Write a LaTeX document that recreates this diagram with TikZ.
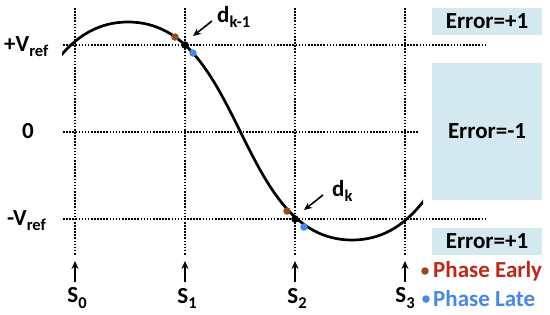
\documentclass[tikz,border=0pt]{standalone}
\usepackage{fontspec}
\setmainfont{Carlito}
\usetikzlibrary{arrows.meta}
\definecolor{boxblue}{RGB}{212,232,240}
\definecolor{earlytxt}{RGB}{190,40,25}
\definecolor{earlydot}{RGB}{150,75,25}
\definecolor{latec}{RGB}{70,135,232}
\newcommand{\mysub}[1]{\raisebox{-0.22em}{\fontsize{16.5}{18}\selectfont #1}}
\tikzset{
  grid/.style={line width=1.6pt, dash pattern=on 1.6pt off 1.5pt},
  lbl/.style={font=\fontsize{23}{27}\selectfont\bfseries, inner sep=0pt},
  errbox/.style={fill=boxblue, minimum width=110pt, inner sep=0pt, font=\fontsize{23}{27}\selectfont\bfseries},
  sdot/.style={circle, inner sep=0pt, minimum size=7.5pt},
  arr/.style={line width=1.6pt, -{Stealth[length=8pt,width=7pt]}}
}
\begin{document}
\begin{tikzpicture}[x=1pt,y=-1pt]
\useasboundingbox (0,0) rectangle (550,314);
% grid
\draw[grid] (63,45) -- (487,45);
\draw[grid] (63,132) -- (418,132);
\draw[grid] (63,219) -- (487,219);
\foreach \x in {75,185,295,405} \draw[grid] (\x,8) -- (\x,255);
% curve
\begin{scope}
\clip (62,0) rectangle (423,314);
\draw[line width=2.7pt] (-96,240) .. controls (20,240) and (12,22) .. (128,22)
  .. controls (244,22) and (236,240) .. (352,240)
  .. controls (468,240) and (460,22) .. (576,22);
\end{scope}
% dots
\node[sdot, fill=earlydot] (e1) at (175,37) {};
\node[sdot, fill=black] (k1) at (185,45) {};
\node[sdot, fill=latec] (l1) at (193,53) {};
\node[sdot, fill=earlydot] (e2) at (287,211) {};
\node[sdot, fill=black] (k2) at (295,219) {};
\node[sdot, fill=latec] (l2) at (304,227) {};
% d labels
\node[lbl, anchor=west] (dk1) at (217,17) {d\mysub{k-1}};
\node[lbl, anchor=west] (dk) at (332,191) {d\mysub{k}};
\coordinate (a1s) at (212,21);
\coordinate (a1e) at (193,36);
\coordinate (a2s) at (323,195);
\coordinate (a2e) at (304,210);
\draw[arr] (a1s) -- (a1e);
\draw[arr] (a2s) -- (a2e);
% y labels
\node[lbl, anchor=west] (vp) at (4,47) {+V\mysub{ref}};
\node[lbl] (zero) at (28,131) {0};
\node[lbl, anchor=west] (vm) at (7,221) {-V\mysub{ref}};
% S labels and arrows
\foreach \x/\i in {75/0,185/1,295/2,405/3}{
  \coordinate (sb\i) at (\x,282);
  \coordinate (st\i) at (\x,261);
  \draw[arr] (sb\i) -- (st\i);
}
\node[lbl] (s0) at (77,298) {S\mysub{0}};
\node[lbl] (s1) at (187,298) {S\mysub{1}};
\node[lbl] (s2) at (297,298) {S\mysub{2}};
\node[lbl] (s3) at (405,298) {S\mysub{3}};
% error boxes
\node[errbox, minimum height=27pt] (err1) at (487,21.5) {Error=+1};
\node[errbox, minimum height=137pt] (err2) at (487,131.5) {Error=-1};
\node[errbox, minimum height=27pt] (err3) at (487,241.5) {Error=+1};
% legend
\node[sdot, fill=earlydot] (le) at (425,271) {};
\node[lbl, anchor=west, text=earlytxt] (lte) at (433,271) {Phase Early};
\node[sdot, fill=latec] (ll) at (426,299) {};
\node[lbl, anchor=west, text=latec] (ltl) at (433,299) {Phase Late};
\end{tikzpicture}
\end{document}
